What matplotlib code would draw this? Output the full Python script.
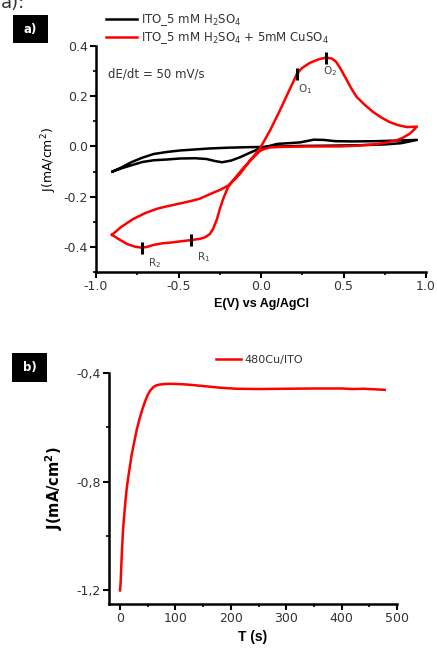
import matplotlib
matplotlib.use("Agg")
import matplotlib.pyplot as plt
from matplotlib.ticker import MultipleLocator, FuncFormatter
from matplotlib.lines import Line2D
from matplotlib.patches import Rectangle

plt.rcParams['font.family'] = ['DejaVu Sans']
plt.rcParams['axes.unicode_minus'] = False

# ---------------- data: panel a (cyclic voltammetry) ----------------
black_E = [-0.90, -0.85, -0.79, -0.72, -0.65, -0.57, -0.49, -0.40, -0.31, -0.20, -0.085, 0.0,
           0.115, 0.236, 0.40, 0.60, 0.75, 0.85, 0.945,
           0.85, 0.70, 0.55, 0.45, 0.38, 0.32, 0.236, 0.097, -0.006, -0.067, -0.127, -0.18,
           -0.236, -0.28, -0.33, -0.40, -0.49, -0.57, -0.65, -0.72, -0.79, -0.85, -0.90]
black_J = [-0.100, -0.085, -0.064, -0.045, -0.030, -0.022, -0.016, -0.012, -0.008, -0.005, -0.003, -0.002,
           0.000, 0.002, 0.003, 0.005, 0.008, 0.013, 0.026,
           0.024, 0.021, 0.020, 0.021, 0.026, 0.027, 0.016, 0.010, -0.008, -0.025, -0.043, -0.056,
           -0.063, -0.058, -0.050, -0.047, -0.048, -0.052, -0.055, -0.062, -0.076, -0.088, -0.100]

red_E = [-0.903, -0.85, -0.775, -0.70, -0.63, -0.56, -0.49, -0.43, -0.37, -0.31, -0.248, -0.20,
         -0.16, -0.127, -0.067, -0.006, 0.055, 0.115, 0.165, 0.194, 0.218, 0.25, 0.297, 0.35,
         0.394, 0.43, 0.455, 0.48, 0.50, 0.52, 0.55, 0.58, 0.63, 0.68, 0.73, 0.78, 0.83, 0.885, 0.945,
         0.92, 0.90, 0.86, 0.82, 0.75, 0.68, 0.58, 0.48, 0.38, 0.28, 0.20, 0.115, 0.055, 0.02,
         -0.006, -0.048, -0.11, -0.17, -0.20, -0.23, -0.25, -0.267, -0.29, -0.31, -0.34, -0.37,
         -0.424, -0.49, -0.55, -0.60, -0.65, -0.69, -0.72, -0.76, -0.81, -0.86, -0.903]
red_J = [-0.352, -0.322, -0.289, -0.265, -0.248, -0.237, -0.227, -0.218, -0.208, -0.190, -0.173, -0.156,
         -0.132, -0.109, -0.056, -0.008, 0.064, 0.144, 0.215, 0.255, 0.290, 0.313, 0.333, 0.347,
         0.354, 0.350, 0.337, 0.312, 0.288, 0.264, 0.228, 0.197, 0.165, 0.137, 0.115, 0.097, 0.085, 0.077, 0.079,
         0.062, 0.050, 0.035, 0.024, 0.014, 0.008, 0.003, 0.000, 0.000, 0.000, -0.001, -0.002, -0.004, -0.010,
         -0.018, -0.045, -0.088, -0.136, -0.162, -0.210, -0.250, -0.290, -0.328, -0.349, -0.362, -0.368,
         -0.373, -0.378, -0.383, -0.386, -0.392, -0.400, -0.403, -0.400, -0.389, -0.370, -0.352]

peak_names = ['O$_1$', 'O$_2$', 'R$_1$', 'R$_2$']
peak_E = [0.218, 0.394, -0.424, -0.72]
peak_J = [0.290, 0.352, -0.373, -0.403]

series_a = ['ITO_5 mM H$_2$SO$_4$', 'ITO_5 mM H$_2$SO$_4$ + 5mM CuSO$_4$']

# ---------------- data: panel b (chronoamperometry) ----------------
t_s = [0, 1, 2, 3, 4, 5, 6, 8, 10, 12, 15, 18, 21, 25, 30, 35, 40, 45, 50, 55, 60, 65, 70,
       78, 85, 95, 110, 130, 150, 180, 210, 250, 300, 350, 400, 420, 440, 460, 478]
J_b = [-1.20, -1.17, -1.12, -1.07, -1.03, -0.99, -0.96, -0.91, -0.865, -0.825, -0.78, -0.74,
       -0.70, -0.66, -0.61, -0.57, -0.535, -0.505, -0.48, -0.463, -0.452, -0.446, -0.443,
       -0.441, -0.440, -0.440, -0.441, -0.444, -0.448, -0.454, -0.458, -0.459, -0.458,
       -0.457, -0.457, -0.459, -0.458, -0.460, -0.462]
series_b = '480Cu/ITO'

W, H = 437, 650
fig = plt.figure(figsize=(W / 100, H / 100), dpi=100)

def fx(px):
    return px / W

def fy(py):
    return 1 - py / H

tick_color = '#333333'
RED = '#ff0000'

def style_axes(ax):
    for s in ['top', 'right']:
        ax.spines[s].set_visible(False)
    for s in ['left', 'bottom']:
        ax.spines[s].set_linewidth(1.8)
    ax.tick_params(which='major', direction='out', length=4, width=1.5, labelsize=9,
                   labelcolor=tick_color, pad=2)
    ax.tick_params(which='minor', direction='out', length=2.5, width=1.2)

# ---------------- panel a ----------------
axa = fig.add_axes([fx(96), fy(272), fx(426) - fx(96), fy(46) - fy(272)])
style_axes(axa)
axa.plot(black_E, black_J, color='black', lw=1.8, solid_joinstyle='round')
axa.plot(red_E, red_J, color=RED, lw=1.8, solid_joinstyle='round')
for e, j in zip(peak_E, peak_J):
    axa.plot([e], [j], marker='|', ms=9, mew=2.2, color='black')
label_off = [(0.005, -0.035), (-0.02, -0.025), (0.035, -0.04), (0.035, -0.035)]
for name, e, j, (dx, dy) in zip(peak_names, peak_E, peak_J, label_off):
    axa.text(e + dx, j + dy, name, fontsize=7.5, color='#444444', ha='left', va='top')
axa.set_xlim(-1.0, 1.0)
axa.set_ylim(-0.5, 0.4)
axa.xaxis.set_major_locator(MultipleLocator(0.5))
axa.xaxis.set_minor_locator(MultipleLocator(0.25))
axa.set_yticks([-0.4, -0.2, 0.0, 0.2, 0.4])
axa.yaxis.set_minor_locator(MultipleLocator(0.1))
axa.xaxis.set_major_formatter(FuncFormatter(lambda v, p: f'{v:.1f}'))
axa.yaxis.set_major_formatter(FuncFormatter(lambda v, p: f'{v:.1f}'))
axa.set_xlabel('E(V) vs Ag/AgCl', fontsize=9, fontweight='bold', labelpad=3,
               family='Liberation Sans')
axa.set_ylabel('J(mA/cm$^2$)', fontsize=9, labelpad=3)
axa.text(0.035, 0.875, 'dE/dt = 50 mV/s', transform=axa.transAxes, fontsize=8.5,
         color='#333333', va='center')

handles_a = [Line2D([], [], color='black', lw=1.8), Line2D([], [], color=RED, lw=1.8)]
fig.legend(handles_a, series_a, loc='upper left', bbox_to_anchor=(fx(106), fy(12)),
           frameon=False, fontsize=8.5, handlelength=2.6, handletextpad=0.4,
           labelspacing=0.15, borderaxespad=0, borderpad=0, labelcolor='#333333')

# ---------------- panel b ----------------
axb = fig.add_axes([fx(109), fy(604), fx(397) - fx(109), fy(373) - fy(604)])
style_axes(axb)
axb.plot(t_s, J_b, color=RED, lw=1.8, solid_joinstyle='round')
axb.set_xlim(-20, 500)
axb.set_ylim(-1.25, -0.4)
axb.set_xticks([0, 100, 200, 300, 400, 500])
axb.xaxis.set_minor_locator(MultipleLocator(50))
axb.set_yticks([-1.2, -0.8, -0.4])
axb.yaxis.set_minor_locator(MultipleLocator(0.2))
axb.yaxis.set_major_formatter(FuncFormatter(lambda v, p: f'{v:.1f}'.replace('.', ',')))
axb.set_xlabel('T (s)', fontsize=10, fontweight='bold', labelpad=3, family='Liberation Sans')
axb.set_ylabel('J(mA/cm$^\\mathbf{2}$)', fontsize=10.5, fontweight='bold', labelpad=8)

handles_b = [Line2D([], [], color=RED, lw=1.8)]
fig.legend(handles_b, [series_b], loc='upper left', bbox_to_anchor=(fx(216), fy(355)),
           frameon=False, fontsize=8, handlelength=2.25, handletextpad=0.3,
           borderaxespad=0, borderpad=0, labelcolor='#333333')

# ---------------- panel tags ----------------
for (x0, y0, x1, y1, lab) in [(13, 15, 48, 43, 'a)'), (12, 353, 47, 382, 'b)')]:
    fig.patches.append(Rectangle((fx(x0), fy(y1)), fx(x1) - fx(x0), fy(y0) - fy(y1),
                                 transform=fig.transFigure, facecolor='black',
                                 edgecolor='none'))
    fig.text(fx((x0 + x1) / 2), fy((y0 + y1) / 2), lab, color='white', fontsize=8.5,
             fontweight='bold', ha='center', va='center')

fig.text(fx(1), fy(8), 'a):', fontsize=13, color='#333333', ha='left', va='baseline')

fig.savefig('out.png', dpi=100, facecolor='white')
